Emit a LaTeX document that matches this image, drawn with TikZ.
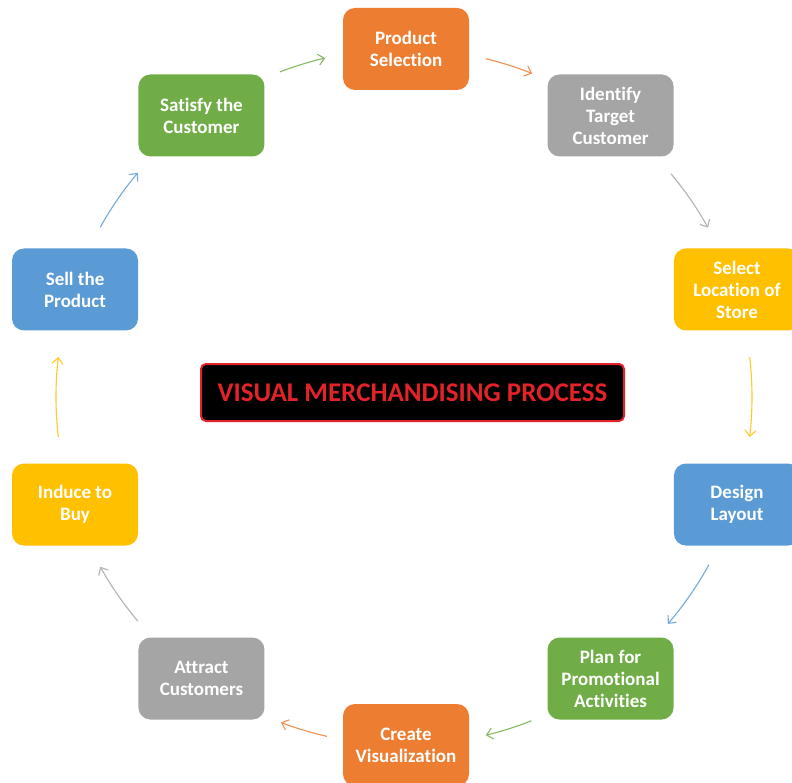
\documentclass[tikz,border=0pt]{standalone}
\usepackage{fontspec}
\setmainfont{Carlito}[Ligatures={NoCommon,NoRequired,NoContextual}]
\usetikzlibrary{arrows.meta,calc}
\definecolor{corange}{HTML}{ED7D31}
\definecolor{cgray}{HTML}{A5A5A5}
\definecolor{cyellow}{HTML}{FFC000}
\definecolor{cblue}{HTML}{5B9BD5}
\definecolor{cgreen}{HTML}{70AD47}
\definecolor{cred}{HTML}{E3222A}
\begin{document}
\begin{tikzpicture}[x=1pt,y=-1pt,
  stepbox/.style={fill=#1, rounded corners=12pt, minimum width=126pt, minimum height=82pt,
    align=center, text=white, inner sep=0pt,
    font=\fontsize{19}{22}\selectfont\bfseries},
  arr/.style={draw=#1!85!white, line width=1.1pt, -{Straight Barb[length=6pt,width=11pt]}}]
\clip (0,0) rectangle (792,783);
\fill[white] (0,0) rectangle (792,783);
\coordinate (C) at (406,397);
\coordinate (A) at (404,397);
% nodes
\node[stepbox=corange] (prod)   at ($(C)+(270:348)$) {Product\\Selection};
\node[stepbox=cgray]   (ident)  at ($(C)+(306:348)$) {Identify\\Target\\Customer};
\node[stepbox=cyellow] (loc)    at ($(C)+(342:348)$) {Select\\Location of\\Store};
\node[stepbox=cblue]   (design) at ($(C)+(18:348)$)  {Design\\Layout};
\node[stepbox=cgreen]  (plan)   at ($(C)+(54:348)$)  {Plan for\\Promotional\\Activities};
\node[stepbox=corange] (create) at ($(C)+(90:348)$)  {Create\\Visualization};
\node[stepbox=cgray]   (attract) at ($(C)+(126:348)$) {Attract\\Customers};
\node[stepbox=cyellow] (induce) at ($(C)+(162:348)$) {Induce to\\Buy};
\node[stepbox=cblue]   (sell)   at ($(C)+(198:348)$) {Sell the\\Product};
\node[stepbox=cgreen]  (satisfy) at ($(C)+(234:348)$) {Satisfy the\\Customer};
% title
\node[fill=black, draw=cred, line width=2pt, rounded corners=5pt,
  minimum width=423pt, minimum height=57pt, inner sep=0pt,
  text=cred, font=\fontsize{27}{30}\selectfont\bfseries] (title) at (412.5,392.5)
  {VISUAL MERCHANDISING PROCESS};
% arrow start points
\coordinate (a1) at ($(A)+(283.6:348)$);
\coordinate (a2) at ($(A)+(320.1:348)$);
\coordinate (a3) at ($(A)+(353.4:348)$);
\coordinate (a4) at ($(A)+(28.8:348)$);
\coordinate (a5) at ($(A)+(68.5:348)$);
\coordinate (a6) at ($(A)+(102.8:348)$);
\coordinate (a7) at ($(A)+(139.9:348)$);
\coordinate (a8) at ($(A)+(173.4:348)$);
\coordinate (a9) at ($(A)+(209.2:348)$);
\coordinate (a10) at ($(A)+(249.1:348)$);
% arrows
\draw[arr=corange] (a1) arc[start angle=283.6, end angle=291.6, radius=348];
\draw[arr=cgray]   (a2) arc[start angle=320.1, end angle=330.9, radius=348];
\draw[arr=cyellow] (a3) arc[start angle=353.4, end angle=366.6, radius=348];
\draw[arr=cblue]   (a4) arc[start angle=28.8, end angle=40.7, radius=348];
\draw[arr=cgreen]  (a5) arc[start angle=68.5, end angle=76.4, radius=348];
\draw[arr=corange] (a6) arc[start angle=102.8, end angle=110.7, radius=348];
\draw[arr=cgray]   (a7) arc[start angle=139.9, end angle=150.8, radius=348];
\draw[arr=cyellow] (a8) arc[start angle=173.4, end angle=186.6, radius=348];
\draw[arr=cblue]   (a9) arc[start angle=209.2, end angle=220.1, radius=348];
\draw[arr=cgreen]  (a10) arc[start angle=249.1, end angle=256.9, radius=348];
\end{tikzpicture}
\end{document}
